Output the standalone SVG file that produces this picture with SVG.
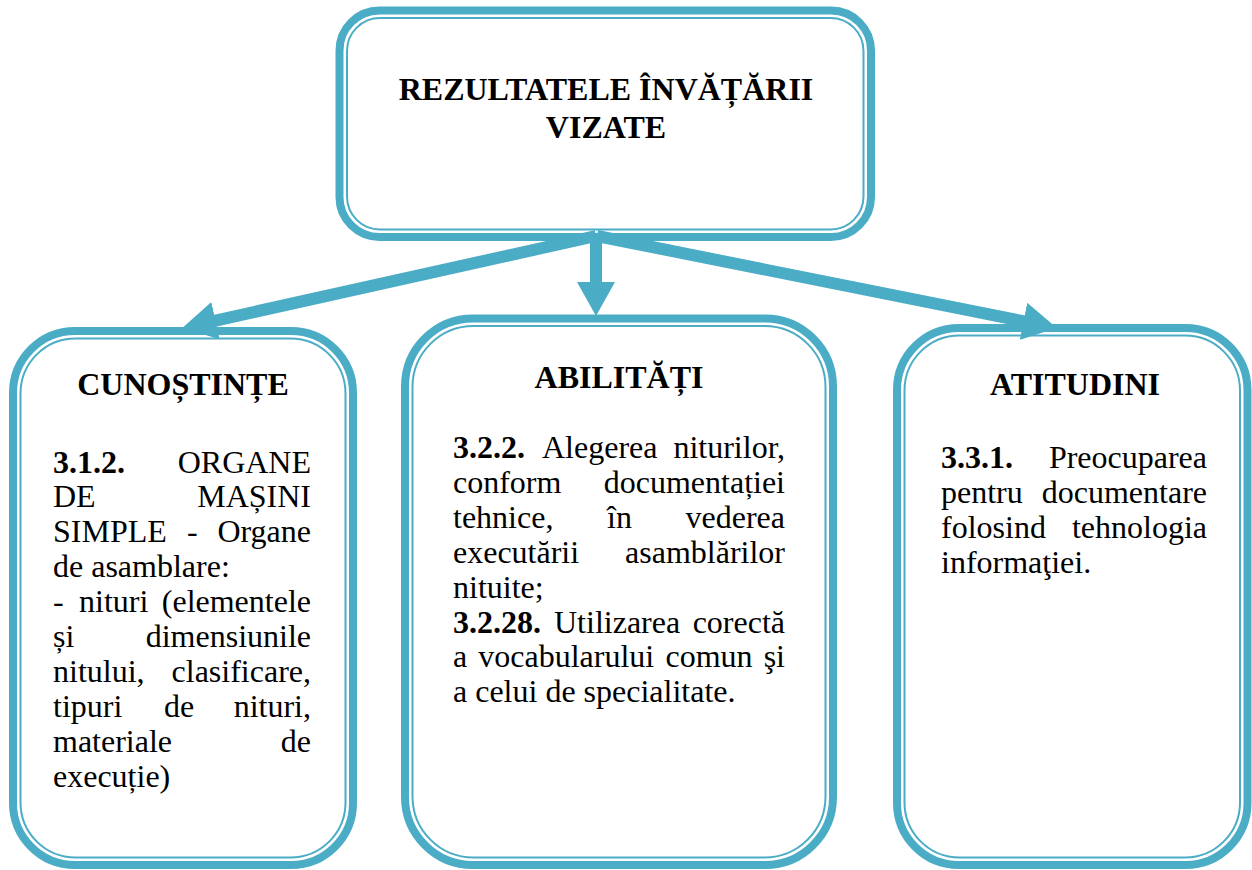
<svg xmlns="http://www.w3.org/2000/svg" width="1252" height="870" viewBox="0 0 1252 870">
<style>
.outer{fill:#fff;stroke:#4BACC6;stroke-width:8}
.inner{fill:none;stroke:#4BACC6;stroke-width:2}
.conn{stroke:#4BACC6;stroke-width:12;fill:none}
text{font-family:"Liberation Serif","Times New Roman",serif;font-size:32px;fill:#000}
.b{font-weight:bold}
.c{text-anchor:middle}
.e{text-anchor:end}
</style>
<defs>
<marker id="ah" markerUnits="userSpaceOnUse" markerWidth="36" markerHeight="40" viewBox="0 -20 36 40" refX="1" refY="0" orient="auto">
<path d="M0,-19 L34,0 L0,19 Z" fill="#4BACC6"/>
</marker>
</defs>
<rect width="1252" height="870" fill="#fff"/>

<g id="node-top">
<rect class="outer" x="339.5" y="10.5" width="531.5" height="226.5" rx="40"/>
<rect class="inner" x="347" y="18" width="516.5" height="211.5" rx="33"/>
<text class="b c" x="606" y="100">REZULTATELE ÎNVĂȚĂRII</text>
<text class="b c" x="606" y="138">VIZATE</text>
</g>

<g id="node-cunostinte">
<rect class="outer" x="13" y="331" width="340" height="534" rx="62"/>
<rect class="inner" x="20.5" y="338.5" width="325" height="519" rx="55"/>
<text class="b c" x="183" y="395">CUNOȘTINȚE</text>
<text class="b" x="53" y="472.5">3.1.2.</text><text class="e" x="311" y="472.5">ORGANE</text>
<text x="53" y="507.4">DE</text><text class="e" x="311" y="507.4">MAȘINI</text>
<text x="53" y="542.3">SIMPLE</text><text x="187" y="542.3">-</text><text class="e" x="311" y="542.3">Organe</text>
<text x="53" y="577.2">de asamblare:</text>
<text x="53" y="612.1">-</text><text x="79" y="612.1">nituri</text><text class="e" x="311" y="612.1">(elementele</text>
<text x="53" y="647">și</text><text class="e" x="311" y="647">dimensiunile</text>
<text x="53" y="681.9">nitului,</text><text class="e" x="311" y="681.9">clasificare,</text>
<text x="53" y="716.8">tipuri</text><text x="164" y="716.8">de</text><text class="e" x="311" y="716.8">nituri,</text>
<text x="53" y="751.7">materiale</text><text class="e" x="311" y="751.7">de</text>
<text x="53" y="786.6">execuție)</text>
</g>

<g id="node-abilitati">
<rect class="outer" x="405" y="318.5" width="428" height="546.5" rx="68"/>
<rect class="inner" x="412.5" y="326" width="413" height="531.5" rx="61"/>
<text class="b c" x="619" y="388">ABILITĂȚI</text>
<text class="b" x="453" y="458">3.2.2.</text><text x="542" y="458">Alegerea</text><text class="e" x="785" y="458">niturilor,</text>
<text x="453" y="492.9">conform</text><text class="e" x="785" y="492.9">documentației</text>
<text x="453" y="527.8">tehnice,</text><text x="607" y="527.8">în</text><text class="e" x="785" y="527.8">vederea</text>
<text x="453" y="562.7">executării</text><text class="e" x="785" y="562.7">asamblărilor</text>
<text x="453" y="597.6">nituite;</text>
<text class="b" x="453" y="632.5">3.2.28.</text><text x="554" y="632.5">Utilizarea</text><text class="e" x="785" y="632.5">corectă</text>
<text x="453" y="667.4">a</text><text x="478.3" y="667.4">vocabularului</text><text x="665.5" y="667.4">comun</text><text class="e" x="785" y="667.4">şi</text>
<text x="453" y="702.3">a celui de specialitate.</text>
</g>

<g id="node-atitudini">
<rect class="outer" x="897" y="328" width="350.5" height="537" rx="62"/>
<rect class="inner" x="904.5" y="335.5" width="335.5" height="522" rx="55"/>
<text class="b c" x="1075" y="395">ATITUDINI</text>
<text class="b" x="941" y="468">3.3.1.</text><text class="e" x="1207" y="468">Preocuparea</text>
<text x="941" y="502.9">pentru</text><text class="e" x="1207" y="502.9">documentare</text>
<text x="941" y="537.8">folosind</text><text class="e" x="1207" y="537.8">tehnologia</text>
<text x="941" y="572.7">informaţiei.</text>
</g>

<g id="connectors">
<line class="conn" x1="596" y1="236" x2="214.5" y2="320.8" marker-end="url(#ah)"/>
<line class="conn" x1="596" y1="236" x2="596" y2="283" marker-end="url(#ah)"/>
<line class="conn" x1="597" y1="236" x2="1024.5" y2="321.5" marker-end="url(#ah)"/>
</g>
</svg>
